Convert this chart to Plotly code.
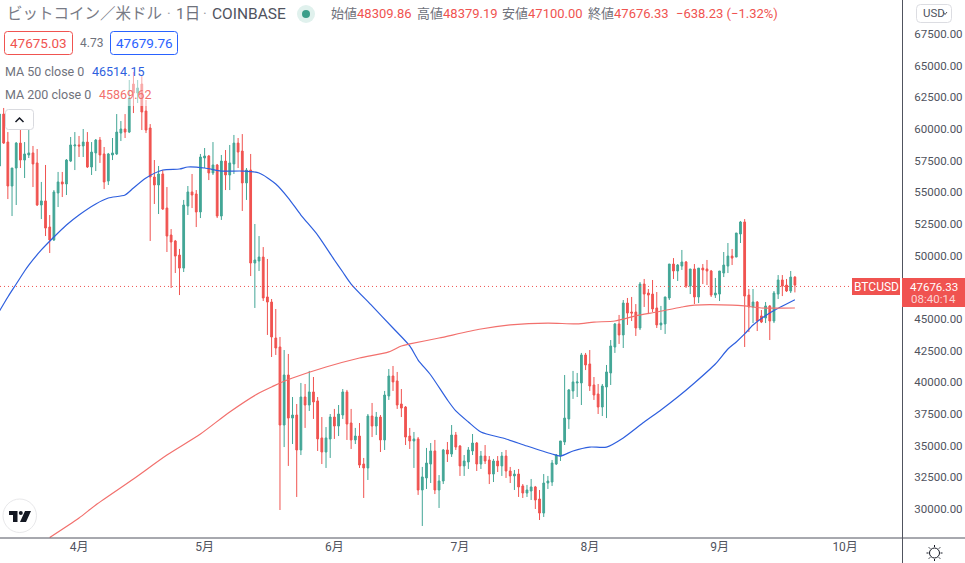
import pandas as pd
import plotly.graph_objects as go

# daily BTCUSD candles
first_day = "2021-03-13"

opens = [
    57080, 61180, 58970, 55500, 56920, 58890, 57550, 57950, 58110, 57320,
    54000, 54320, 52260, 51240, 54950, 55820, 55660, 57470, 58660, 58740,
    58660, 58970, 57000, 58110, 59130, 58030, 55890, 57950, 58030, 59680,
    60000, 59760, 63550, 62840, 63550, 61420, 60080, 56210, 55580, 56450,
    53760, 51630, 51160, 50050, 49020, 53920, 55030, 54870, 53450, 57710,
    57870, 56530, 57160, 53130, 57470, 56370, 57240, 58890, 58260, 55740,
    56760, 49420, 49580, 49890, 46740, 46340, 43500, 42790, 36630, 40580,
    37180, 37420, 34660, 38840, 38210, 39240, 38530, 35610, 34500, 35530,
    37260, 36550, 37420, 39240, 36790, 35450, 35760, 33550, 33240, 37340,
    36550, 37260, 35450, 38920, 40500, 40110, 38290, 38050, 35760, 35370,
    35530, 31500, 32450, 33550, 34580, 31500, 32210, 34660, 34340, 35840,
    34970, 33400, 33710, 34580, 35210, 33550, 34180, 33870, 32760, 33790,
    33400, 34180, 33000, 32610, 32760, 31820, 31260, 31420, 31740, 30790,
    29680, 32050, 32130, 33550, 34180, 35290, 37110, 39320, 39950, 39950,
    42160, 41450, 39790, 39080, 38050, 39630, 40740, 42790, 44610, 43740,
    46260, 45550, 45550, 44290, 47760, 47050, 46970, 45870, 44530, 44610,
    46660, 49340, 48790, 49180, 49500, 47600, 48950, 46740, 49020, 48950,
    48790, 46890, 46970, 48630, 49180, 49970, 49890, 51710, 52660, 46890,
    45950, 46340, 45240, 45080, 46030, 44840, 46970, 48080, 47680, 47210,
    48309.86,
]
highs = [
    61180, 61660, 59760, 56920, 58970, 60000, 58970, 59920, 58660, 58420,
    55820, 57160, 53210, 55180, 56610, 56610, 57630, 59370, 59760, 59450,
    60000, 59760, 58970, 59210, 59370, 58580, 58110, 59290, 61180, 60630,
    61180, 63870, 64500, 63870, 64180, 62290, 60390, 57550, 57080, 56760,
    55420, 52100, 51240, 50530, 54400, 55500, 56450, 55180, 58030, 58500,
    57950, 58970, 57240, 57950, 58340, 58740, 59530, 59290, 59600, 56920,
    58030, 52500, 51550, 50680, 49740, 46580, 45790, 43580, 42550, 42240,
    38840, 38290, 39950, 39870, 40900, 40420, 38840, 37260, 36470, 37500,
    37900, 38210, 39470, 39400, 37900, 36400, 36790, 34030, 37500, 38370,
    37660, 37420, 39320, 41050, 41290, 40820, 39470, 38130, 36400, 36080,
    35680, 33320, 34820, 35210, 35450, 32680, 34740, 35290, 36630, 36080,
    35050, 34260, 34890, 35920, 35290, 34580, 35050, 34180, 33950, 34180,
    34500, 34660, 33320, 33080, 33160, 31970, 31900, 32370, 31820, 31500,
    32760, 32610, 33870, 34340, 35370, 40580, 39470, 40900, 40740, 42320,
    42320, 42550, 40420, 39870, 39870, 41370, 43340, 44680, 45320, 46500,
    46660, 46740, 46180, 47920, 48160, 47370, 48080, 47130, 46030, 46740,
    49340, 49810, 49340, 50450, 49580, 48950, 49340, 49020, 49340, 49660,
    48870, 48240, 48790, 50290, 51000, 50530, 51790, 52740, 52890, 47370,
    47370, 46420, 45710, 46340, 46100, 47210, 48470, 48470, 48160, 48790,
    48379.19,
]
lows = [
    57000, 58820, 54470, 53130, 54000, 56920, 56130, 57710, 55420, 53920,
    52890, 51550, 50210, 51160, 53840, 54630, 54790, 57390, 56760, 57790,
    57790, 56920, 56370, 56680, 57320, 55260, 55580, 57550, 57950, 59050,
    59290, 59680, 61260, 62050, 59920, 59680, 51160, 54080, 53290, 53610,
    50290, 47450, 48630, 46890, 48710, 53210, 53760, 52260, 52970, 56920,
    55970, 56370, 52970, 52820, 55180, 55180, 56450, 56920, 53530, 54400,
    48390, 45870, 48790, 46420, 43740, 42000, 42160, 29920, 34890, 33400,
    35130, 30950, 34260, 36400, 37740, 37110, 34580, 33550, 33240, 34030,
    35530, 35760, 37110, 35450, 34740, 35130, 33240, 30870, 32290, 35680,
    35840, 34500, 34660, 38610, 39320, 37900, 37260, 35050, 34740, 33240,
    31110, 28660, 31580, 32050, 31180, 30080, 31970, 33710, 34110, 34660,
    32610, 32610, 33160, 34260, 33000, 33160, 33550, 31970, 32130, 32920,
    32610, 32450, 32050, 31500, 30950, 30870, 30950, 30710, 30000, 29130,
    29370, 31580, 31820, 33470, 33790, 35050, 36320, 38690, 38840, 38210,
    40970, 39320, 38610, 37500, 37340, 37180, 39790, 42320, 43030, 42710,
    44530, 44840, 43660, 44130, 45950, 45390, 45550, 44290, 44130, 43820,
    46500, 48160, 48000, 48870, 47450, 46970, 46180, 46260, 47760, 47680,
    46740, 46660, 46420, 48310, 48630, 49260, 49890, 51000, 42790, 43970,
    44680, 44050, 44680, 44680, 43340, 44680, 46580, 46810, 47130, 47050,
    47100.00,
]
closes = [
    61180, 58890, 55500, 56920, 58890, 57550, 58030, 58110, 57240, 54000,
    54320, 52180, 51240, 55030, 55820, 55660, 57550, 58740, 58740, 58660,
    58970, 57000, 58180, 59130, 57950, 55820, 58030, 58110, 59760, 60000,
    59760, 62450, 62840, 63240, 61340, 59920, 56210, 55580, 56450, 53680,
    51550, 51080, 49970, 49020, 54000, 55030, 54790, 53450, 57790, 57870,
    56530, 57160, 53130, 57470, 56370, 57320, 58890, 58180, 55740, 56760,
    49420, 49660, 49890, 46660, 46340, 43580, 42710, 36630, 40580, 37180,
    37420, 34660, 38840, 38210, 39240, 38450, 35530, 34500, 35610, 37260,
    36550, 37500, 39240, 36710, 35450, 35760, 33470, 33240, 37340, 36550,
    37260, 35450, 39000, 40500, 40030, 38210, 37970, 35680, 35370, 35530,
    31500, 32530, 33630, 34580, 31500, 32210, 34660, 34340, 35840, 34890,
    33400, 33790, 34660, 35210, 33550, 34180, 33790, 32760, 33790, 33400,
    34180, 33000, 32610, 32760, 31740, 31260, 31500, 31740, 30710, 29680,
    32050, 32210, 33630, 34260, 35370, 37180, 39400, 40030, 40030, 42160,
    41370, 39710, 39000, 38050, 39710, 40820, 42870, 44610, 43740, 46260,
    45470, 45470, 44290, 47760, 46970, 46890, 45790, 44530, 44680, 46740,
    49340, 48790, 49260, 49500, 47600, 48950, 46740, 49020, 48870, 48790,
    46890, 47050, 48790, 49260, 49970, 49810, 51790, 52660, 46810, 45950,
    46340, 44840, 44760, 46030, 44840, 47050, 48080, 47600, 47210, 48310,
    47676.33,
]

ma50_dates = [
    "2021-03-13", "2021-03-15", "2021-03-17", "2021-03-19", "2021-03-20", "2021-03-23", "2021-03-26",
    "2021-03-29", "2021-04-01", "2021-04-05", "2021-04-08", "2021-04-12", "2021-04-14", "2021-04-17",
    "2021-04-21", "2021-04-25", "2021-04-27", "2021-05-01", "2021-05-05", "2021-05-10", "2021-05-14",
    "2021-05-18", "2021-05-21", "2021-05-24", "2021-05-28", "2021-06-01", "2021-06-03", "2021-06-05",
    "2021-06-10", "2021-06-15", "2021-06-19", "2021-06-21", "2021-06-24", "2021-06-28", "2021-06-30",
    "2021-07-03", "2021-07-06", "2021-07-12", "2021-07-17", "2021-07-23", "2021-07-25", "2021-07-28",
    "2021-08-01", "2021-08-05", "2021-08-09", "2021-08-14", "2021-08-18", "2021-08-22", "2021-08-26",
    "2021-08-31", "2021-09-03", "2021-09-05", "2021-09-07", "2021-09-09", "2021-09-13", "2021-09-19",
]
ma50_values = [
    45630, 46740, 47760, 48790, 49260, 50450, 51470,
    52420, 53210, 54080, 54550, 54790, 55340, 56130,
    56760, 56840, 57000, 56920, 56680, 56680, 56530,
    55660, 54550, 53210, 51630, 49660, 48710, 47760,
    46030, 44290, 42870, 41760, 40580, 38610, 37740,
    36870, 36080, 35530, 34970, 34340, 34180, 34580,
    34890, 34890, 35610, 36870, 37820, 38840, 39950,
    41450, 42630, 43190, 43820, 44530, 45470, 46514.15,
]

ma200_dates = [
    "2021-03-25", "2021-04-01", "2021-04-05", "2021-04-14", "2021-04-22", "2021-04-30", "2021-05-07",
    "2021-05-14", "2021-05-17", "2021-05-19", "2021-05-22", "2021-05-30", "2021-06-07", "2021-06-14",
    "2021-06-17", "2021-06-19", "2021-06-26", "2021-07-06", "2021-07-13", "2021-07-22", "2021-07-29",
    "2021-08-02", "2021-08-07", "2021-08-12", "2021-08-17", "2021-08-23", "2021-08-26", "2021-09-04",
    "2021-09-07", "2021-09-11", "2021-09-19",
]
ma200_values = [
    27750, 29290, 30320, 32370, 34260, 35920, 37660,
    39160, 39630, 39950, 40340, 41210, 41920, 42400,
    42870, 43030, 43500, 44210, 44530, 44680, 44610,
    44760, 44840, 45240, 45550, 45950, 46100, 46100,
    46030, 45870, 45869.62,
]

# 47500 sits under the red price tag in the picture, so it has no label
price_ticks = [
    30000, 32500, 35000, 37500, 40000, 42500, 45000, 50000, 52500,
    55000, 57500, 60000, 62500, 65000, 67500, 70000,
]
month_ticks = ["2021-04-01", "2021-05-01", "2021-06-01", "2021-07-01", "2021-08-01", "2021-09-01", "2021-10-01"]
month_labels = ["4月", "5月", "6月", "7月", "8月", "9月", "10月"]

price_line_level = 47570

UP = "#43a696"
DOWN = "#f05350"
BLUE = "#2e5fde"
SALMON = "#f2706d"
INK = "#50535e"
GREY = "#6f727c"

W, H = 965, 563
PLOT_R, PLOT_B = 902, 538
FONT = "Roboto, 'Noto Sans CJK JP', sans-serif"


def px(x):
    return x / PLOT_R


def py(y):
    return 1 - y / PLOT_B


fig = go.Figure()

fig.add_trace(go.Candlestick(
    x=pd.date_range(first_day, periods=len(closes)),
    open=opens, high=highs, low=lows, close=closes,
    increasing=dict(line=dict(color=UP, width=1), fillcolor=UP),
    decreasing=dict(line=dict(color=DOWN, width=1), fillcolor=DOWN),
    whiskerwidth=0,
    showlegend=False,
))
fig.add_trace(go.Scatter(x=ma50_dates, y=ma50_values, mode="lines",
                         line=dict(color=BLUE, width=1.2, shape="spline", smoothing=0.7), showlegend=False))
fig.add_trace(go.Scatter(x=ma200_dates, y=ma200_values, mode="lines",
                         line=dict(color=SALMON, width=1.2, shape="spline", smoothing=0.7), showlegend=False))

fig.update_layout(
    width=W, height=H,
    margin=dict(l=0, r=W - PLOT_R, t=0, b=H - PLOT_B),
    paper_bgcolor="white", plot_bgcolor="white",
    font=dict(family=FONT, size=12, color=INK),
    boxgap=0.4,
    hovermode=False,
    xaxis=dict(
        type="date",
        range=["2021-03-13 03:00", "2021-10-14 14:00"],
        rangeslider=dict(visible=False),
        showgrid=False, zeroline=False,
        tickmode="array", tickvals=month_ticks, ticktext=month_labels,
        ticks="", tickfont=dict(size=12, color=INK),
    ),
    yaxis=dict(
        side="right",
        range=[27710, 70185],
        showgrid=False, zeroline=False,
        tickmode="array", tickvals=price_ticks, tickformat=".2f",
        ticks="outside", ticklen=9, tickcolor="rgba(0,0,0,0)",
        tickfont=dict(size=11.5, color=INK),
    ),
)


def rect(x0, y0, x1, y1, fill="white", border=None, opacity=1, radius=0):
    # pixel box, optionally with rounded corners
    if radius:
        r = radius
        path = (f"M{px(x0 + r)},{py(y0)} L{px(x1 - r)},{py(y0)} Q{px(x1)},{py(y0)} {px(x1)},{py(y0 + r)} "
                f"L{px(x1)},{py(y1 - r)} Q{px(x1)},{py(y1)} {px(x1 - r)},{py(y1)} "
                f"L{px(x0 + r)},{py(y1)} Q{px(x0)},{py(y1)} {px(x0)},{py(y1 - r)} "
                f"L{px(x0)},{py(y0 + r)} Q{px(x0)},{py(y0)} {px(x0 + r)},{py(y0)} Z")
        fig.add_shape(type="path", path=path, xref="paper", yref="paper", fillcolor=fill,
                      line=dict(color=border or fill, width=1), opacity=opacity)
    else:
        fig.add_shape(type="rect", xref="paper", yref="paper", x0=px(x0), x1=px(x1), y0=py(y0), y1=py(y1),
                      fillcolor=fill, line=dict(color=border or fill, width=1 if border else 0), opacity=opacity)


def label(x, y, text, size=13, color=GREY, anchor="left"):
    fig.add_annotation(xref="paper", yref="paper", x=px(x), y=py(y), text=text, showarrow=False,
                       xanchor=anchor, yanchor="middle", align=anchor,
                       font=dict(family=FONT, size=size, color=color), borderpad=0, borderwidth=0)


# faded candles under the legend
rect(5, 72, 150, 106, fill="white", opacity=0.5)

# last price line
fig.add_shape(type="line", xref="paper", yref="y", x0=0, x1=px(852), y0=price_line_level, y1=price_line_level,
              line=dict(color=DOWN, width=1, dash="1px,3px"))

# axis frame
fig.add_shape(type="line", xref="paper", yref="paper", x0=px(902.5), x1=px(902.5), y0=py(0), y1=py(H),
              line=dict(color=INK, width=1))
fig.add_shape(type="line", xref="paper", yref="paper", x0=0, x1=px(W), y0=py(538), y1=py(538),
              line=dict(color=INK, width=1))

# header
label(7, 14, "ビットコイン／米ドル", size=15.5, color="#787b86")
label(167, 14, "·", size=14, color="#9a9ca5")
label(176, 14, "1日", size=15.5, color=GREY)
label(203, 14, "·", size=14, color="#9a9ca5")
label(212, 14, "COINBASE", size=15.5, color=INK)
fig.add_shape(type="circle", xref="paper", yref="paper", x0=px(297), x1=px(315), y0=py(5), y1=py(23),
              fillcolor="#e0f1ed", line=dict(width=0))
fig.add_shape(type="circle", xref="paper", yref="paper", x0=px(302), x1=px(310), y0=py(10), y1=py(18),
              fillcolor="#3c9e8a", line=dict(width=0))
for x, name, value in [(331, "始値", "48309.86"), (417, "高値", "48379.19"), (502, "安値", "47100.00"), (588, "終値", "47676.33")]:
    label(x, 14, f"{name}<span style='color:{DOWN}'>{value}</span>", size=13)
label(676, 14, "−638.23 (−1.32%)", size=13, color=DOWN)

# bid / ask boxes
rect(4.5, 31.5, 72.5, 54.5, border=DOWN, radius=3)
label(38.5, 43, "47675.03", size=13.5, color=DOWN, anchor="center")
label(91, 43, "4.73", size=12, color=GREY, anchor="center")
rect(110.5, 31.5, 177.5, 54.5, border="#2962ff", radius=3)
label(144, 43, "47679.76", size=13.5, color="#2962ff", anchor="center")

# study legend
label(5, 71, "MA 50 close 0", size=12.5)
label(92, 71, "46514.15", size=12.5, color=BLUE)
label(5, 95, "MA 200 close 0", size=12.5)
label(99, 95, "45869.62", size=12.5, color=SALMON)

# collapse button
rect(5.5, 109.5, 33.5, 129.5, border="#d9dadf", radius=3)
fig.add_shape(type="path", xref="paper", yref="paper",
              path=f"M{px(15.5)},{py(122)} L{px(19.5)},{py(118)} L{px(23.5)},{py(122)}",
              line=dict(color="#131722", width=1.5))

# TradingView badge
fig.add_shape(type="circle", xref="paper", yref="paper", x0=px(3), x1=px(36.5), y0=py(499), y1=py(532.5),
              fillcolor="white", line=dict(color="#e8e8ea", width=1))
fig.add_shape(type="path", xref="paper", yref="paper", fillcolor="#131722", line=dict(width=0),
              path=(f"M{px(9)},{py(511)} L{px(17.5)},{py(511)} L{px(17.5)},{py(522)} L{px(13)},{py(522)} "
                    f"L{px(13)},{py(515)} L{px(9)},{py(515)} Z"))
fig.add_shape(type="circle", xref="paper", yref="paper", x0=px(18.8), x1=px(22.8), y0=py(511), y1=py(515),
              fillcolor="#131722", line=dict(width=0))
fig.add_shape(type="path", xref="paper", yref="paper", fillcolor="#131722", line=dict(width=0),
              path=f"M{px(25)},{py(511)} L{px(31)},{py(511)} L{px(26)},{py(522)} L{px(20)},{py(522)} Z")

# price labels
rect(852, 278, 900, 295, fill=DOWN)
label(876, 286.5, "BTCUSD", size=12, color="white", anchor="center")
rect(902, 278, W, 307, fill=DOWN)
label(934, 286.5, "47676.33", size=11.5, color="white", anchor="center")
label(934, 299, "08:40:14", size=11.5, color="#fbd5d4", anchor="center")

# currency button
rect(916.5, 4.5, 951.5, 22.5, border="#dcdde2", radius=4)
label(923, 13.5, "USD", size=11.5, color=INK)
fig.add_shape(type="path", xref="paper", yref="paper",
              path=f"M{px(943)},{py(12)} L{px(945)},{py(14.5)} L{px(947)},{py(12)}",
              line=dict(color=INK, width=1))

# settings icon
fig.add_shape(type="circle", xref="paper", yref="paper", x0=px(929.5), x1=px(939.5), y0=py(548), y1=py(558),
              fillcolor="white", line=dict(color="#131722", width=1))
for x0, y0, x1, y1 in [(934.5, 545, 934.5, 547), (934.5, 559, 934.5, 561), (926.5, 553, 928.5, 553), (940.5, 553, 942.5, 553),
                       (928.8, 547.3, 930.2, 548.7), (938.8, 557.3, 940.2, 558.7), (940.2, 547.3, 938.8, 548.7), (930.2, 557.3, 928.8, 558.7)]:
    fig.add_shape(type="line", xref="paper", yref="paper", x0=px(x0), x1=px(x1), y0=py(y0), y1=py(y1),
                  line=dict(color="#131722", width=1))

# the browser's default page margin would push the fixed-size figure out of the window
fig.write_html("out.html", config=dict(displayModeBar=False), post_script="document.body.style.margin='0';")
